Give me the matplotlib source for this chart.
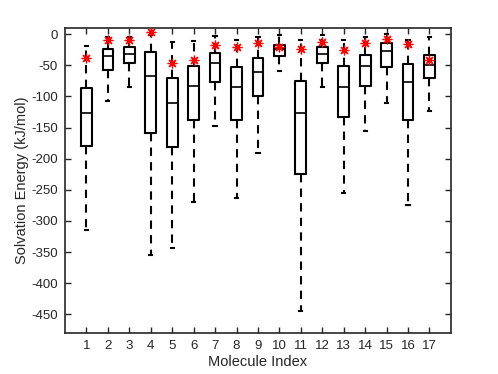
import matplotlib
matplotlib.use("Agg")
import matplotlib.pyplot as plt

plt.rcParams['font.family'] = ['Liberation Sans', 'DejaVu Sans']

molecules = list(range(1, 18))
q1 = [-180, -57, -46, -159, -181, -138, -77, -137, -100, -35, -224, -46, -133, -83, -52.5, -138, -70]
med = [-126.5, -35, -31, -67, -111, -83, -47, -85, -60.5, -23, -126.5, -31, -85, -51.5, -27, -77, -49]
q3 = [-87, -23, -20, -28.5, -71, -51.5, -29.5, -52.5, -38, -16.5, -75, -20, -51.5, -33, -14, -47.5, -34]
whislo = [-315, -107, -84, -354, -343, -270, -148, -262.5, -191, -59, -444, -84, -254.5, -156, -110, -274, -123]
whishi = [-19, -4, -5, -2, -13, -11, -3, -8.5, -4, -1.5, -9.5, -0.5, -9.5, -4, 0, -8.5, -4]
reference = [-37.5, -10, -8.5, 4, -45.5, -41, -18, -20, -14, -21, -24.5, -13, -25.5, -14, -7, -16, -42]
yticks = [0, -50, -100, -150, -200, -250, -300, -350, -400, -450]

fig = plt.figure(figsize=(4.98, 3.74), dpi=100)
ax = fig.add_axes([0.1305, 0.1096, 0.775, 0.8155])

stats = []
for i in range(len(molecules)):
    stats.append(dict(med=med[i], q1=q1[i], q3=q3[i], whislo=whislo[i], whishi=whishi[i], fliers=[]))

ax.bxp(stats, positions=molecules, widths=0.5, showfliers=False, capwidths=0.15,
       boxprops=dict(color='black', linewidth=1.5),
       medianprops=dict(color='black', linewidth=1.2),
       whiskerprops=dict(color='black', linewidth=1.5, linestyle=(0, (4, 3))),
       capprops=dict(color='black', linewidth=1.5))

ax.plot(molecules, reference, linestyle='none', marker=(8, 2, 0), color='red',
        markersize=7, markeredgewidth=0.9, zorder=5)

ax.set_xlim(0, 18)
ax.set_ylim(-480, 10)
ax.set_xticks(molecules)
ax.set_xticklabels([str(m) for m in molecules])
ax.set_yticks(yticks)
ax.set_yticklabels([str(t) for t in yticks])
ax.tick_params(direction='in', top=True, right=True, length=4, width=1.0,
               colors='#262626', labelsize=9.5, pad=5)
for s in ax.spines.values():
    s.set_color('#262626')
    s.set_linewidth(1.2)
ax.set_xlabel('Molecule Index', fontsize=10.5, color='#262626', labelpad=2)
ax.set_ylabel('Solvation Energy (kJ/mol)', fontsize=10.5, color='#262626', labelpad=2)

fig.savefig('out.png', dpi=100)
